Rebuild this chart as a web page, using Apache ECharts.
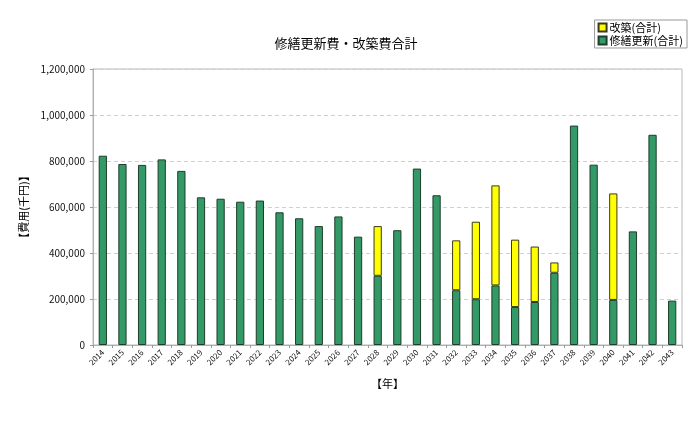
<!DOCTYPE html>
<html><head><meta charset="utf-8">
<script src="https://cdn.jsdelivr.net/npm/echarts@6/dist/echarts.min.js"></script>
<style>html,body{margin:0;padding:0;background:#fff}#c{width:700px;height:422px}</style>
</head><body><div id="c"></div>
<script>
const years = ['2014','2015','2016','2017','2018','2019','2020','2021','2022','2023','2024','2025','2026','2027','2028','2029','2030','2031','2032','2033','2034','2035','2036','2037','2038','2039','2040','2041','2042','2043'];
const repairValues = [823000,787000,783000,807000,757000,642000,636000,623000,628000,577000,551000,517000,559000,471000,301000,499000,767000,651000,238000,199000,259000,165000,187000,314000,954000,784000,196000,494000,914000,193000];
const rebuildValues = [null,null,null,null,null,null,null,null,null,null,null,null,null,null,216000,null,null,null,217000,337000,435000,293000,241000,45000,null,null,463000,null,null,null];
const yTicks = [0,200000,400000,600000,800000,1000000,1200000];
const titleText = '修繕更新費・改築費合計';
const seriesNames = ['改築(合計)','修繕更新(合計)'];

const font = '"Noto Sans CJK JP", "Noto Sans", sans-serif';
const chart = echarts.init(document.getElementById('c'), null, {renderer:'canvas'});
chart.setOption({
  animation:false,
  textStyle:{fontFamily:font},
  title:{text:titleText,left:341,textAlign:'center',top:32,textStyle:{fontSize:13,fontWeight:'normal',color:'#000',fontFamily:font}},
  legend:{
    data:seriesNames, orient:'vertical', right:13, top:20,
    borderColor:'#999', borderWidth:1, padding:[2,4,2,3], itemGap:2,
    itemWidth:8, itemHeight:8, icon:'rect',
    textStyle:{fontSize:11,color:'#000',fontFamily:font,padding:[0,0,0,-2]}
  },
  grid:{left:93,right:18,top:69,bottom:77,show:true,borderColor:'#b8b8b8',borderWidth:1},
  xAxis:{
    type:'category', data:years,
    name:'【年】', nameLocation:'middle', nameGap:33,
    nameTextStyle:{fontSize:11,color:'#000',fontFamily:font},
    axisLine:{lineStyle:{color:'#b0b0b0'}},
    axisTick:{show:true,alignWithLabel:false,length:3,lineStyle:{color:'#999'}},
    axisLabel:{rotate:45,fontSize:8,color:'#111',margin:6,interval:0}
  },
  yAxis:{
    type:'value', min:0, max:1200000, interval:200000,
    name:'【費用(千円)】', nameLocation:'middle', nameGap:62, nameRotate:90,
    nameTextStyle:{fontSize:11,color:'#000',fontFamily:font},
    axisLine:{show:true,lineStyle:{color:'#b0b0b0'}},
    axisTick:{show:true,length:3,lineStyle:{color:'#999'}},
    axisLabel:{fontSize:10,color:'#111',margin:8,formatter:v=>yTicks.includes(v)?v.toLocaleString('en-US'):''},
    splitLine:{show:true,lineStyle:{color:'#d0d0d0',type:[4,3]}}
  },
  series:[
    {name:seriesNames[1],type:'bar',stack:'t',data:repairValues,barWidth:'42%',
     itemStyle:{color:'#339966',borderColor:'#1f3d2c',borderWidth:1}},
    {name:seriesNames[0],type:'bar',stack:'t',data:rebuildValues,barWidth:'42%',
     itemStyle:{color:'#ffff00',borderColor:'#3a3a1a',borderWidth:1}}
  ]
});
</script></body></html>
